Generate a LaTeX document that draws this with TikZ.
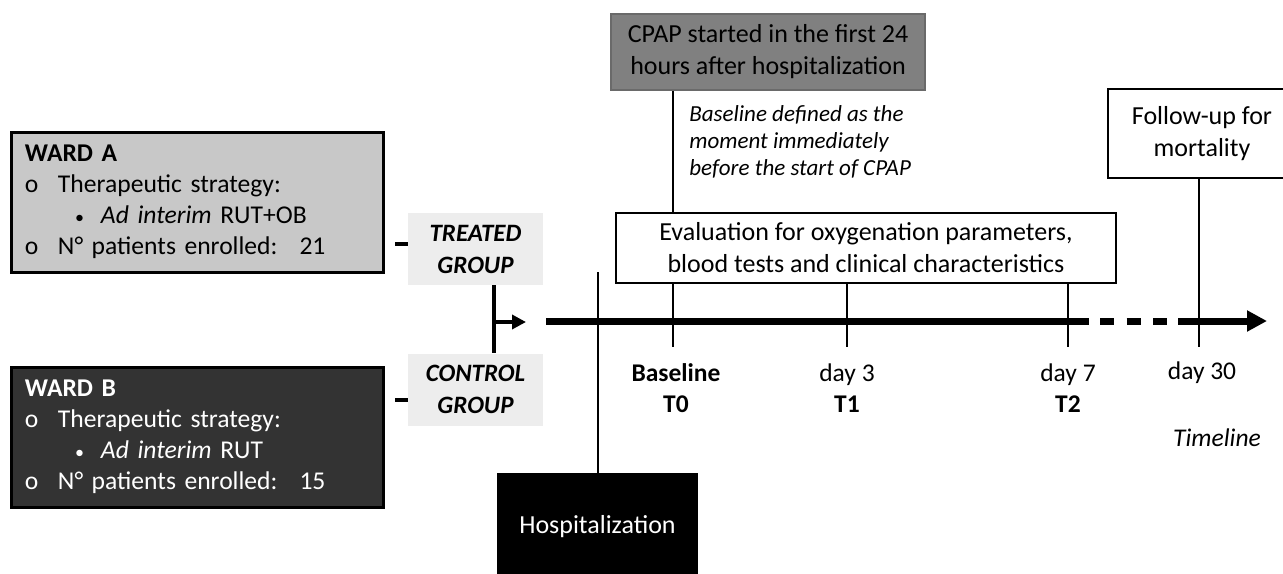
\documentclass[tikz,border=0pt]{standalone}
\usepackage{fontspec}
\setmainfont{Carlito}
\usepackage{tikz}
\usetikzlibrary{arrows.meta}
\definecolor{wardagray}{HTML}{C8C8C8}
\definecolor{wardbgray}{HTML}{333333}
\definecolor{groupgray}{HTML}{EDEDED}
\definecolor{cpapgray}{HTML}{808080}
\definecolor{cpapedge}{HTML}{6A6A6A}

\begin{document}
\begin{tikzpicture}[x=0.5pt,y=-0.5pt,
  wardbox/.style={draw=black, line width=1.5pt, minimum width=186pt, minimum height=70pt,
    text width=172pt, inner xsep=7pt, align=left, font=\fontsize{12.8}{15.5}\selectfont},
  groupbox/.style={fill=groupgray, minimum width=67.5pt, minimum height=36pt, align=center,
    font=\fontsize{12.5}{16}\selectfont\bfseries\itshape},
  infobox/.style={draw=black, line width=1pt, align=center, font=\fontsize{13}{16}\selectfont},
  tlabel/.style={align=center, font=\fontsize{12.75}{15.5}\selectfont},
  tick/.style={line width=1.25pt},
  timeline/.style={line width=3.5pt}]
\clip (0,0) rectangle (1283,573);

% wards and groups
\node[wardbox, fill=wardagray] (wardA) at (197,202) {\textbf{WARD A}\\
  \makebox[16.5pt][l]{o}Therapeutic strategy:\\
  \hspace{25pt}\makebox[13pt][l]{\small\textbullet}\textit{Ad interim} RUT+OB\\
  \makebox[16.5pt][l]{o}N° patients enrolled:\hspace{11pt}21};
\node[wardbox, fill=wardbgray, text=white] (wardB) at (197,437) {\textbf{WARD B}\\
  \makebox[16.5pt][l]{o}Therapeutic strategy:\\
  \hspace{25pt}\makebox[13pt][l]{\small\textbullet}\textit{Ad interim} RUT\\
  \makebox[16.5pt][l]{o}N° patients enrolled:\hspace{11pt}15};
\node[groupbox] (treated) at (475.5,249) {TREATED\\GROUP};
\node[groupbox] (control) at (475.5,389.5) {CONTROL\\GROUP};
\draw[line width=2pt] ([yshift=2.5pt]treated.west) -- ++(-13,0);
\draw[line width=2pt] ([yshift=-5pt]control.west) -- ++(-13,0);

\coordinate (join) at (494,322);
\coordinate (jointip) at (526,322);
\draw[line width=2pt] (treated.south -| join) -- (control.north -| join);
\draw[line width=2pt, -{Triangle[length=7pt,width=7pt]}] (join) -- (jointip);

% timeline
\coordinate (tstart) at (546,321);
\coordinate (t0) at (673,321);
\coordinate (t1) at (847,321);
\coordinate (t2) at (1068,321);
\coordinate (t30) at (1199,321);
\coordinate (dashfrom) at (1089,321);
\coordinate (dashto) at (1178,321);
\coordinate (tend) at (1267,321);
\draw[timeline] (tstart) -- (dashfrom);
\draw[timeline, dash pattern=on 7pt off 6.25pt] ([xshift=5.5pt]dashfrom) -- ([xshift=-5.5pt]dashto);
\draw[timeline, -{Triangle[length=10pt,width=10pt]}] (dashto) -- (tend);

% boxes above and below
\node[infobox, fill=cpapgray, draw=cpapedge, minimum width=157pt, minimum height=38pt] (cpap) at (768,52)
  {CPAP started in the first 24\\hours after hospitalization};
\node[infobox, minimum width=250pt, minimum height=35pt] (eval) at (866,248)
  {Evaluation for oxygenation parameters,\\blood tests and clinical characteristics};
\node[infobox, minimum width=94pt, minimum height=44.5pt] (follow) at (1202,133.5) {Follow-up for\\mortality};
\node[fill=black, text=white, minimum width=100.5pt, minimum height=54pt,
  font=\fontsize{13}{15.5}\selectfont] (hosp) at (597.5,527) {Hospitalization};
\node[anchor=west, align=left, inner sep=0pt, font=\fontsize{11.5}{13.5}\selectfont\itshape] (note) at (689,142)
  {Baseline defined as the\\moment immediately\\before the start of CPAP};

\draw[tick] (cpap.south -| t0) -- (eval.north -| t0);
\foreach \t in {t0,t1,t2}
  \draw[tick] (eval.south -| \t) -- ([yshift=-13pt]\t);
\draw[tick] (follow.south -| t30) -- ([yshift=-13pt]t30);
\coordinate (hosptop) at (598,272);
\draw[tick] (hosptop) -- (hosp.north -| hosptop);

% labels
\node[tlabel, font=\fontsize{12.75}{15.5}\selectfont\bfseries] (lab0) at (676,388.5) {Baseline\\T0};
\node[tlabel] (lab1) at (847,388.5) {day 3\\\textbf{T1}};
\node[tlabel] (lab2) at (1068,388.5) {day 7\\\textbf{T2}};
\node[tlabel] (lab30) at (1202,373) {day 30};
\node[tlabel, font=\fontsize{12.75}{15.5}\selectfont\itshape] (tlname) at (1217,438) {Timeline};
\end{tikzpicture}
\end{document}
